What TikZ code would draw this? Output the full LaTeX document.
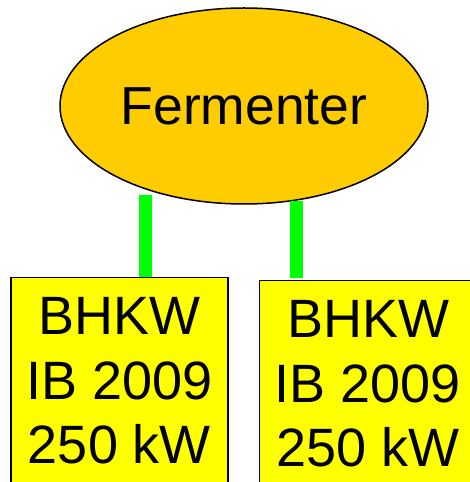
\documentclass[tikz,border=0pt]{standalone}
\usepackage{fontspec}
\setmainfont{Liberation Sans}
\usetikzlibrary{shapes.geometric}
\definecolor{ferm}{HTML}{FFCC00}
\definecolor{bhkw}{HTML}{FFFF00}
\definecolor{pipe}{HTML}{00FF00}
\begin{document}
\begin{tikzpicture}[x=1pt,y=1pt,
 tank/.style={ellipse, draw=black, line width=1.5pt, fill=ferm, minimum width=368pt, minimum height=196pt, inner sep=0pt, font=\fontsize{53.5}{62}\selectfont},
 unit/.style={rectangle, draw=black, line width=1.5pt, fill=bhkw, minimum width=217pt, inner xsep=0pt, inner ysep=20pt, align=center, anchor=north, font=\fontsize{54}{64.5}\selectfont},
 link/.style={draw=pipe, line width=13pt}]
\useasboundingbox (0,0) rectangle (470,482);
\clip (0,0) rectangle (470,482);
\node[tank] (ferm) at (244,376) {Fermenter};
\node[unit] (b1) at (119.5,205) {BHKW\\IB 2009\\250 kW};
\node[unit] (b2) at (368,202) {BHKW\\IB 2009\\250 kW};
\coordinate (p1) at (145,287);
\coordinate (p2) at (296.5,281);
\draw[link] (p1) -- (p1 |- b1.north);
\draw[link, shorten >=2pt] (p2) -- (p2 |- b2.north);
\end{tikzpicture}
\end{document}
